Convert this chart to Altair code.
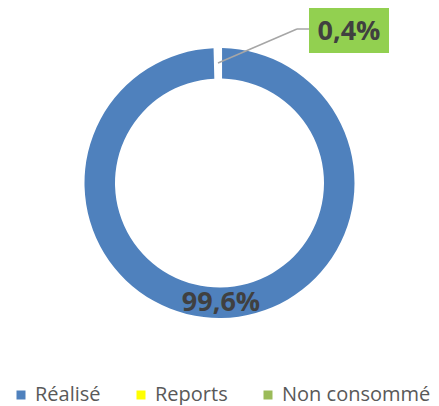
import altair as alt
import pandas as pd

categories = ["Réalisé", "Reports", "Non consommé"]
values = [99.6, 0.0, 0.4]
ring_labels = ["99,6%", "", ""]
callout_label = "0,4%"
colors = ["#4F81BD", "#FFFF00", "#9BBB59"]

df = pd.DataFrame({
    "cat": categories,
    "value": values,
    "label": ring_labels,
    "idx": list(range(len(categories))),
})

W, H = 423, 350

base = alt.Chart(df)

arcs = base.mark_arc(outerRadius=135, innerRadius=104.5, padAngle=0.03).encode(
    theta=alt.Theta("value:Q", stack=True),
    order=alt.Order("idx:Q"),
    color=alt.Color(
        "cat:N",
        scale=alt.Scale(domain=categories, range=colors),
        sort=categories,
        legend=alt.Legend(
            title=None,
            orient="none",
            legendX=3,
            legendY=377,
            direction="horizontal",
            symbolType="square",
            symbolSize=81,
            symbolStrokeWidth=0,
            labelFont="Open Sans",
            labelFontSize=20,
            labelColor="#595959",
            columnPadding=30,
            labelOffset=4,
            padding=0,
        ),
    ),
)

ring_text = base.mark_text(radius=120, font="Open Sans", fontWeight="bold", fontSize=27, color="#404040").encode(
    theta=alt.Theta("value:Q", stack=True),
    order=alt.Order("idx:Q"),
    text="label:N",
)

callout = alt.Chart(pd.DataFrame({"t": [callout_label]}))

box = callout.mark_rect(color="#92D050").encode(
    x=alt.value(301), x2=alt.value(381), y=alt.value(0), y2=alt.value(45)
)
box_text = callout.mark_text(font="Open Sans", fontWeight="bold", fontSize=27, color="#404040").encode(
    x=alt.value(341), y=alt.value(24), text="t:N"
)
lead1 = callout.mark_rule(color="#A6A6A6", strokeWidth=1.5).encode(
    x=alt.value(210), y=alt.value(55), x2=alt.value(289), y2=alt.value(21)
)
lead2 = callout.mark_rule(color="#A6A6A6", strokeWidth=1.5).encode(
    x=alt.value(289), y=alt.value(21), x2=alt.value(301), y2=alt.value(21)
)

chart = alt.layer(arcs, ring_text, lead1, lead2, box, box_text).properties(
    width=W, height=H, padding=0
).configure_view(stroke=None)

chart.save("out.html", embed_options={"renderer": "svg", "actions": False})
